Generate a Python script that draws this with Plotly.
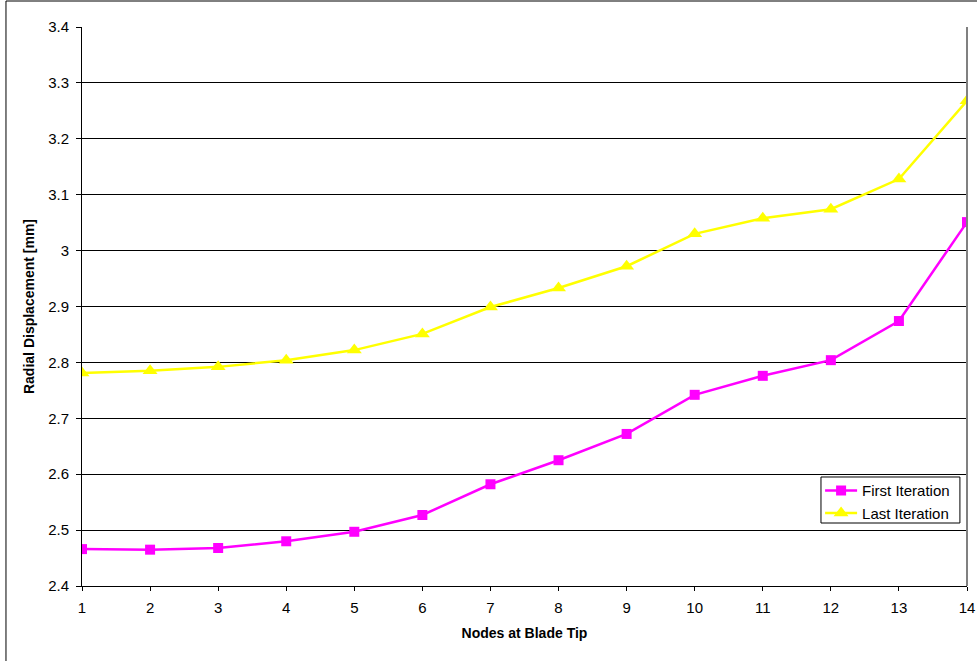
import plotly.graph_objects as go

nodes = list(range(1, 15))
first_iteration = [2.466, 2.465, 2.468, 2.480, 2.497, 2.527, 2.582, 2.625, 2.672, 2.742, 2.776, 2.804, 2.874, 3.051]
last_iteration = [2.781, 2.785, 2.792, 2.804, 2.822, 2.851, 2.899, 2.933, 2.972, 3.030, 3.058, 3.074, 3.128, 3.268]
y_ticks = [2.4, 2.5, 2.6, 2.7, 2.8, 2.9, 3.0, 3.1, 3.2, 3.3, 3.4]
y_labels = ["2.4", "2.5", "2.6", "2.7", "2.8", "2.9", "3", "3.1", "3.2", "3.3", "3.4"]

fig = go.Figure()
fig.add_trace(go.Scatter(x=nodes, y=first_iteration, name="First Iteration", mode="lines+markers",
                         line=dict(color="#FF00FF", width=2.5),
                         marker=dict(symbol="square", size=10, color="#FF00FF")))
fig.add_trace(go.Scatter(x=nodes, y=last_iteration, name="Last Iteration", mode="lines+markers",
                         line=dict(color="#FFFF00", width=2.5),
                         marker=dict(symbol="triangle-up", size=13, color="#FFFF00")))

font = "Liberation Sans, Arial, sans-serif"
fig.update_layout(
    width=977, height=661,
    margin=dict(l=82, r=10, t=27, b=75),
    paper_bgcolor="white", plot_bgcolor="white",
    font=dict(family=font, size=15, color="black"),
    showlegend=True,
    legend=dict(x=0.834, y=0.2, xanchor="left", yanchor="top",
                bgcolor="rgba(0,0,0,0)", borderwidth=0,
                font=dict(size=15), tracegroupgap=0, itemwidth=32),
    xaxis=dict(range=[1, 14], tickvals=nodes, showgrid=False, zeroline=False,
               showline=True, linecolor="black", linewidth=1, automargin=False,
               ticks="outside", ticklen=4, tickcolor="black", ticklabelstandoff=4,
               title=dict(text="<b>Nodes at Blade Tip</b>", font=dict(size=14), standoff=13)),
    yaxis=dict(range=[2.4, 3.4], tickvals=y_ticks, ticktext=y_labels, showgrid=True,
               gridcolor="black", gridwidth=1, zeroline=False,
               showline=True, linecolor="black", linewidth=1, automargin=False,
               ticks="outside", ticklen=5, tickcolor="black", ticklabelstandoff=4,
               title=dict(text="<b>Radial Displacement [mm]</b>", font=dict(size=14), standoff=10)),
    shapes=[
        dict(type="line", xref="paper", yref="paper", x0=1, x1=1, y0=0, y1=1,
             line=dict(color="gray", width=2)),
        dict(type="rect", xref="paper", yref="paper", x0=-0.0859, x1=1.2, y0=-0.3, y1=1.0465,
             line=dict(color="black", width=1), layer="below"),
        dict(type="rect", xref="paper", yref="paper", x0=0.835, x1=0.992, y0=0.1127, y1=0.195,
             line=dict(color="black", width=1), fillcolor="white", layer="above"),
    ],
)

fig.write_html("out.html", config={"displayModeBar": False},
               post_script="document.body.style.margin='0';")
